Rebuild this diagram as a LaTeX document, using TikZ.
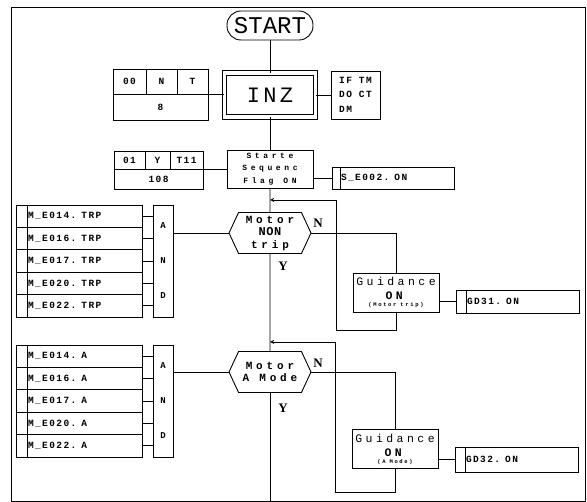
\documentclass[tikz,border=0pt]{standalone}
\usepackage{fontspec}
\setmainfont{Liberation Serif}
\setmonofont{Liberation Mono}
\usetikzlibrary{shapes.symbols}
\newcommand\gap{\hspace{5pt}}
\newcommand\widegap{\hspace{10pt}}

\begin{document}
\begin{tikzpicture}[x=1pt, y=-1pt, >=stealth, line width=0.9pt,
  lbl/.style={font=\ttfamily\bfseries\fontsize{9.5}{11}\selectfont\addfontfeatures{LetterSpace=15}},
  cell/.style={draw, lbl, inner sep=0pt, minimum width=#1},
  sigbox/.style={draw, lbl, inner xsep=#1+1pt, inner ysep=0pt, align=left,
    path picture={\draw ([xshift=#1]path picture bounding box.north west) -- ([xshift=#1]path picture bounding box.south west);}},
  row/.style={sigbox=11pt, text width=102pt, minimum height=22.4pt},
  andbox/.style={draw, minimum width=20, minimum height=112, inner sep=0pt, align=center,
    font=\ttfamily\bfseries\fontsize{9}{35}\selectfont},
  startbox/.style={draw, rounded corners=14pt, minimum width=86, minimum height=29, inner sep=0pt,
    font=\ttfamily\fontsize{24}{24}\selectfont},
  inzbox/.style={draw, double, double distance=3.5pt, minimum width=91, minimum height=44,
    font=\ttfamily\fontsize{22}{22}\selectfont\addfontfeatures{LetterSpace=15}},
  decide/.style={draw, signal, signal to=east and west, signal pointer angle=130,
    minimum width=82, minimum height=41, inner sep=0pt, align=center,
    font=\ttfamily\bfseries\fontsize{11}{12.5}\selectfont\addfontfeatures{LetterSpace=35}},
  guide/.style={draw, minimum width=86, minimum height=39, inner sep=0pt, align=center,
    font=\ttfamily\fontsize{11.5}{11}\selectfont\addfontfeatures{LetterSpace=30}},
  yn/.style={font=\bfseries\fontsize{13}{13}\selectfont}]

  \fill[white] (0,0) rectangle (587,502);
  \useasboundingbox (0,0) rectangle (587,502);
  \draw (11,7) rectangle (585,501);

  % start and initialisation
  \node[startbox] (start) at (270,25.5) {START};
  \node[inzbox] (inz) at (270,95) {INZ};
  \node[cell=33, minimum height=25] (a00) at (129.5,81.5) {00};
  \node[cell=31, minimum height=25] (aN) at (161.5,81.5) {N};
  \node[cell=31, minimum height=25] (aT) at (192.5,81.5) {T};
  \node[cell=95, minimum height=26] (a8) at (160.5,107) {8};
  \node[draw, lbl, minimum width=49, minimum height=48, inner sep=0pt] (ifbx) at (355.5,95)
    {\def\arraystretch{1.35}\begin{tabular}{@{}l@{\hspace{7pt}}l@{}}IF&TM\\DO&CT\\DM&\end{tabular}};
  \draw (start) -- (inz);
  \draw (aT.south east) -- (aT.south east -| inz.west);
  \draw (inz.east) -- (ifbx.west);

  % sequence flag
  \node[draw, minimum width=86, minimum height=38, inner sep=0pt, align=center,
    font=\ttfamily\bfseries\fontsize{8}{12.5}\selectfont\addfontfeatures{LetterSpace=45}]
    (seq) at (270,169) {Starte\\Sequenc\\Flag\widegap ON};
  \node[cell=31, minimum height=18] (b01) at (129.5,160) {01};
  \node[cell=25, minimum height=18] (bY) at (157.5,160) {Y};
  \node[cell=33, minimum height=18] (bT) at (186.5,160) {T11};
  \node[cell=89, minimum height=20] (b108) at (158.5,179) {108};
  \node[sigbox=8pt, text width=104pt, minimum height=22] (se002) at (393,178) {S\_E002.\gap ON};
  \draw (inz) -- (seq);
  \draw (bT.south east) -- (bT.south east -| seq.west);
  \draw (se002.west -| seq.east) -- (se002.west);

  % first decision: motor non trip
  \node[decide] (hex1) at (270,233) {Motor\\{\fontsize{12}{12.5}\selectfont\addfontfeatures{LetterSpace=5}NON}\\trip};
  \node[andbox] (and1) at (163,261) {A\\N\\D};
  \node[row] (r1) at (79,216.2) {M\_E014.\gap TRP};
  \node[row] (r2) at (79,238.6) {M\_E016.\gap TRP};
  \node[row] (r3) at (79,261.0) {M\_E017.\gap TRP};
  \node[row] (r4) at (79,283.4) {M\_E020.\gap TRP};
  \node[row] (r5) at (79,305.8) {M\_E022.\gap TRP};
  \node[guide] (gd1) at (396,292.5) {Guidance\\[3pt]\textbf{ON}\\[-4pt]{\bfseries\fontsize{5.5}{5}\selectfont(Motor\hspace{4pt}trip)}};
  \node[sigbox=10pt, text width=101pt, minimum height=23] (gd31) at (517.5,301.5) {GD31.\gap ON};
  \node[yn] (n1) at (318,223) {N};
  \node[yn] (y1) at (283,266) {Y};
  \coordinate (j1) at (270,200);
  \coordinate (l1) at (336,330);
  \draw (seq) -- (hex1);
  \foreach \i in {1,...,5} \draw (r\i.east) -- (r\i.east -| and1.west);
  \draw (and1.east |- hex1.west) -- (hex1.west);
  \draw (hex1.east) -| (gd1.north);
  \draw (gd31.west -| gd1.east) -- (gd31.west);
  \draw[->] (gd1.south) |- (l1) |- (j1);

  % second decision: motor a mode
  \node[decide] (hex2) at (270,372) {Motor\\A\widegap Mode};
  \node[andbox] (and2) at (163,401) {A\\N\\D};
  \node[row] (s1) at (79,356.2) {M\_E014.\gap A};
  \node[row] (s2) at (79,378.6) {M\_E016.\gap A};
  \node[row] (s3) at (79,401.0) {M\_E017.\gap A};
  \node[row] (s4) at (79,423.4) {M\_E020.\gap A};
  \node[row] (s5) at (79,445.8) {M\_E022.\gap A};
  \node[guide] (gd2) at (395,449) {Guidance\\[3pt]\textbf{ON}\\[-4pt]{\bfseries\fontsize{5.5}{5}\selectfont(A\hspace{4pt}Mode)}};
  \node[sigbox=10pt, text width=101pt, minimum height=25] (gd32) at (516.5,459.5) {GD32.\gap ON};
  \node[yn] (n2) at (318,363) {N};
  \node[yn] (y2) at (283,408) {Y};
  \coordinate (j2) at (270,342);
  \coordinate (l2) at (335,492);
  \coordinate (bot) at (270,501);
  \draw (hex1) -- (hex2);
  \draw (hex2) -- (bot);
  \foreach \i in {1,...,5} \draw (s\i.east) -- (s\i.east -| and2.west);
  \draw (and2.east |- hex2.west) -- (hex2.west);
  \draw (hex2.east) -| (gd2.north);
  \draw (gd32.west -| gd2.east) -- (gd32.west);
  \draw[->] (gd2.south) |- (l2) |- (j2);

\end{tikzpicture}
\end{document}
